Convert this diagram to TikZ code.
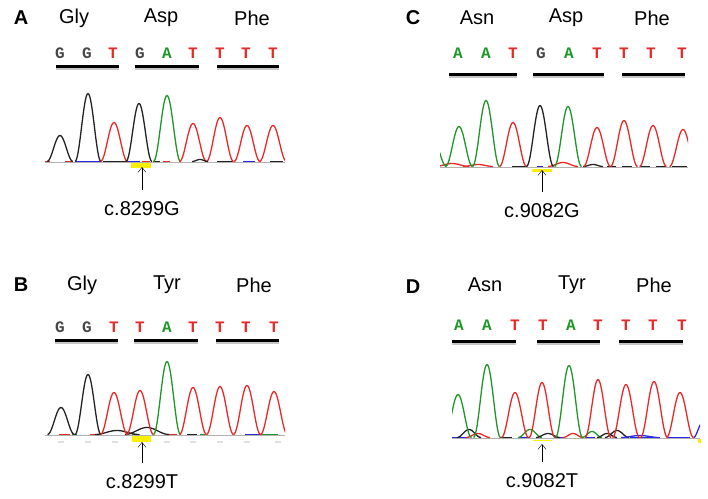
\documentclass[tikz,border=0pt]{standalone}
\usepackage{fontspec}
\setmainfont{Liberation Sans}
\newfontfamily\basefont{Liberation Mono}
\usetikzlibrary{arrows.meta}

\definecolor{trRed}{RGB}{235,40,40}
\definecolor{trGreen}{RGB}{30,150,40}
\definecolor{trBlack}{RGB}{35,35,35}
\definecolor{trBlue}{RGB}{40,40,230}
\definecolor{baseGrey}{RGB}{70,70,70}
\definecolor{mutYellow}{RGB}{250,240,0}

\tikzset{
  panel/.style={font=\fontsize{20}{22}\selectfont\bfseries},
  amino/.style={font=\fontsize{20}{22}\selectfont},
  nucl/.style={font=\fontsize{16}{17}\selectfont\basefont\bfseries},
  mut/.style={font=\fontsize{20}{22}\selectfont, inner sep=2pt},
  codon/.style={line width=3pt},
  shade/.style={line width=2pt, gray!45},
  trace/.style={line width=1.3pt, line join=round},
  pointer/.style={-{Straight Barb[length=5pt,width=8pt]}, shorten <=10pt},
}

\begin{document}
\begin{tikzpicture}[x=1pt,y=-1pt]
  \useasboundingbox (0,0) rectangle (708,498);

  % ---------- Panel A ----------
  \node[panel] (pA) at (21,18) {A};
  \node[amino] (aaA1) at (74,18) {Gly};
  \node[amino] (aaA2) at (161,18) {Asp};
  \node[amino] (aaA3) at (252,18) {Phe};
  \foreach \x/\b/\c [count=\i] in {60/G/baseGrey,87/G/baseGrey,113/T/trRed,140/G/baseGrey,167/A/trGreen,193/T/trRed,220/T/trRed,246/T/trRed,273/T/trRed}
    \node[nucl,text=\c] (ntA\i) at (\x,53) {\b};
  % codons
  \foreach \a/\b in {56/119,135/199,217/279}{
    \draw[shade] (\a,68.5) -- (\b,68.5);
    \draw[codon] (\a,66) -- (\b,66);
  }
  % trace
  \begin{scope}
    \clip (45,80) rectangle (285,165);
    \draw[gray!60] (45,162) -- (285,162);
    \foreach \a/\b/\col in {45/50/trRed,65/72/trRed,75/100/trBlue,103/128/trBlack,128/140/trBlue,142/150/trRed,153/160/trBlack,163/170/trRed,217/233/trBlack,243/255/trBlue,270/283/trBlack}
      \draw[trace,\col] (\a,161.5) -- (\b,161.5);
    \foreach \c/\h/\d/\col in {60/26/13/trBlack,88/68/13/trBlack,114/39/13.5/trRed,139/58/13/trBlack,167/66/13.5/trGreen,193/38/13.5/trRed,220/44/13.5/trRed,247/36/13/trRed,273/36/13.5/trRed,200/2/8/trBlack}
      \draw[trace,\col] plot[domain=-\d:\d,samples=31] ({\c+\x},{161.5-\h*0.5*(1+cos(180*\x/\d))});
  \end{scope}
  % mutation
  \fill[mutYellow] (131,163) rectangle (151,168);
  \coordinate (tipA) at (142,167);
  \node[mut] (mutA) at (142,209) {c.8299G};
  \draw[pointer] (mutA.north) -- (tipA);

  % ---------- Panel C ----------
  \node[panel] (pC) at (413,18) {C};
  \node[amino] (aaC1) at (477,18) {Asn};
  \node[amino] (aaC2) at (566,18) {Asp};
  \node[amino] (aaC3) at (652,18) {Phe};
  \foreach \x/\b/\c [count=\i] in {458/A/trGreen,486/A/trGreen,513/T/trRed,541/G/baseGrey,569/A/trGreen,597/T/trRed,624/T/trRed,651/T/trRed,682/T/trRed}
    \node[nucl,text=\c] (ntC\i) at (\x,53) {\b};
  \foreach \a/\b in {449/517,533/604,622/685}{
    \draw[shade] (\a,76.5) -- (\b,76.5);
    \draw[codon] (\a,74) -- (\b,74);
  }
  \begin{scope}
    \clip (440,85) rectangle (688,170);
    \draw[gray!60] (440,167) -- (688,167);
    \foreach \a/\b/\col in {512/527/trBlack,537/543/trBlue,607/616/trBlack,622/632/trBlack,640/650/trBlack,656/666/trBlack,672/687/trBlack}
      \draw[trace,\col] (\a,166.5) -- (\b,166.5);
    \foreach \c/\h/\d/\col in {452/3/17/trRed,478/2/15/trRed,563/4/15/trRed,593/2/10/trBlack,433/27/13.5/trGreen,459/40/13.5/trGreen,486/66/13.5/trGreen,513/44/13.5/trRed,540/61/13.5/trBlack,568/60/13.5/trGreen,597/39/13.5/trRed,624/46/13.5/trRed,653/41/13.5/trRed,683/37/13.5/trRed}
      \draw[trace,\col] plot[domain=-\d:\d,samples=31] ({\c+\x},{166.5-\h*0.5*(1+cos(180*\x/\d))});
  \end{scope}
  \fill[mutYellow] (532,169) rectangle (552,172);
  \coordinate (tipC) at (542,170);
  \node[mut] (mutC) at (542,211) {c.9082G};
  \draw[pointer] (mutC.north) -- (tipC);

  % ---------- Panel B ----------
  \node[panel] (pB) at (21,285) {B};
  \node[amino] (aaB1) at (82,285) {Gly};
  \node[amino] (aaB2) at (167,285) {Tyr};
  \node[amino] (aaB3) at (254,285) {Phe};
  \foreach \x/\b/\c [count=\i] in {60/G/baseGrey,87/G/baseGrey,114/T/trRed,140/T/trRed,167/A/trGreen,193/T/trRed,220/T/trRed,246/T/trRed,274/T/trRed}
    \node[nucl,text=\c] (ntB\i) at (\x,327) {\b};
  \foreach \a/\b in {55/118,134/198,216/279}{
    \draw[shade] (\a,342.5) -- (\b,342.5);
    \draw[codon] (\a,340) -- (\b,340);
  }
  \foreach \x in {61,88,115,167,193,220,247,278}
    \draw[gray!25, line width=1.5pt] (\x-3,442) -- (\x+3,442);
  \begin{scope}
    \clip (45,350) rectangle (285,438);
    \draw[gray!60] (45,435) -- (285,435);
    \foreach \a/\b/\col in {59/70/trRed,72/77/trGreen,90/97/trRed,132/140/trGreen,168/177/trRed,187/197/trBlack,200/205/trGreen,245/260/trBlue,260/278/trGreen}
      \draw[trace,\col] (\a,434.5) -- (\b,434.5);
    \foreach \c/\h/\d/\col in {117/4/22/trBlack,147/7/22/trBlack,61/27/13.5/trBlack,88/60/13/trBlack,114/42/13.5/trRed,140/44/13.5/trRed,167/73/13.5/trGreen,193/47/13.5/trRed,220/48/13.5/trRed,247/49/13.5/trRed,274/43/13.5/trRed}
      \draw[trace,\col] plot[domain=-\d:\d,samples=31] ({\c+\x},{434.5-\h*0.5*(1+cos(180*\x/\d))});
  \end{scope}
  \fill[mutYellow] (132,436) rectangle (151,442);
  \coordinate (tipB) at (142,442);
  \node[mut] (mutB) at (142,482) {c.8299T};
  \draw[pointer] (mutB.north) -- (tipB);

  % ---------- Panel D ----------
  \node[panel] (pD) at (413,287) {D};
  \node[amino] (aaD1) at (485,285) {Asn};
  \node[amino] (aaD2) at (572,285) {Tyr};
  \node[amino] (aaD3) at (654,285) {Phe};
  \foreach \x/\b/\c [count=\i] in {459/A/trGreen,487/A/trGreen,515/T/trRed,543/T/trRed,571/A/trGreen,598/T/trRed,626/T/trRed,653/T/trRed,682/T/trRed}
    \node[nucl,text=\c] (ntD\i) at (\x,325) {\b};
  \foreach \a/\b in {452/516,537/600,619/683}{
    \draw[shade] (\a,343.5) -- (\b,343.5);
    \draw[codon] (\a,341) -- (\b,341);
  }
  \begin{scope}
    \clip (452,350) rectangle (700,441);
    \draw[gray!60] (452,438) -- (700,438);
    \foreach \a/\b/\col in {452/466/trBlue,500/512/trBlack,520/530/trBlue,555/565/trBlue,585/595/trBlue,630/660/trBlue,668/690/trBlue}
      \draw[trace,\col] (\a,437.5) -- (\b,437.5);
    \foreach \c/\h/\d/\col in {469/8/12/trBlack,478/4/12/trRed,530/8/12/trGreen,548/4/12/trBlack,573/4/10/trRed,592/6/10/trGreen,607/4/10/trBlack,617/7/12/trBlack,640/2/19/trBlue,702/14/8.5/trBlue,458/43/13.5/trGreen,487/73/13.5/trGreen,515/45/13.5/trRed,542/55/13/trRed,569/72/13.5/trGreen,598/58/13/trRed,626/53/13.5/trRed,654/56/13.5/trRed,680/45/13.5/trRed}
      \draw[trace,\col] plot[domain=-\d:\d,samples=31] ({\c+\x},{437.5-\h*0.5*(1+cos(180*\x/\d))});
  \end{scope}
  \fill[mutYellow] (698,439) rectangle (701,443);
  \draw[mutYellow, line width=1.5pt] (533,440.5) -- (552,440.5);
  \coordinate (tipD) at (542,444);
  \node[mut] (mutD) at (542,481) {c.9082T};
  \draw[pointer] (mutD.north) -- (tipD);
\end{tikzpicture}
\end{document}
